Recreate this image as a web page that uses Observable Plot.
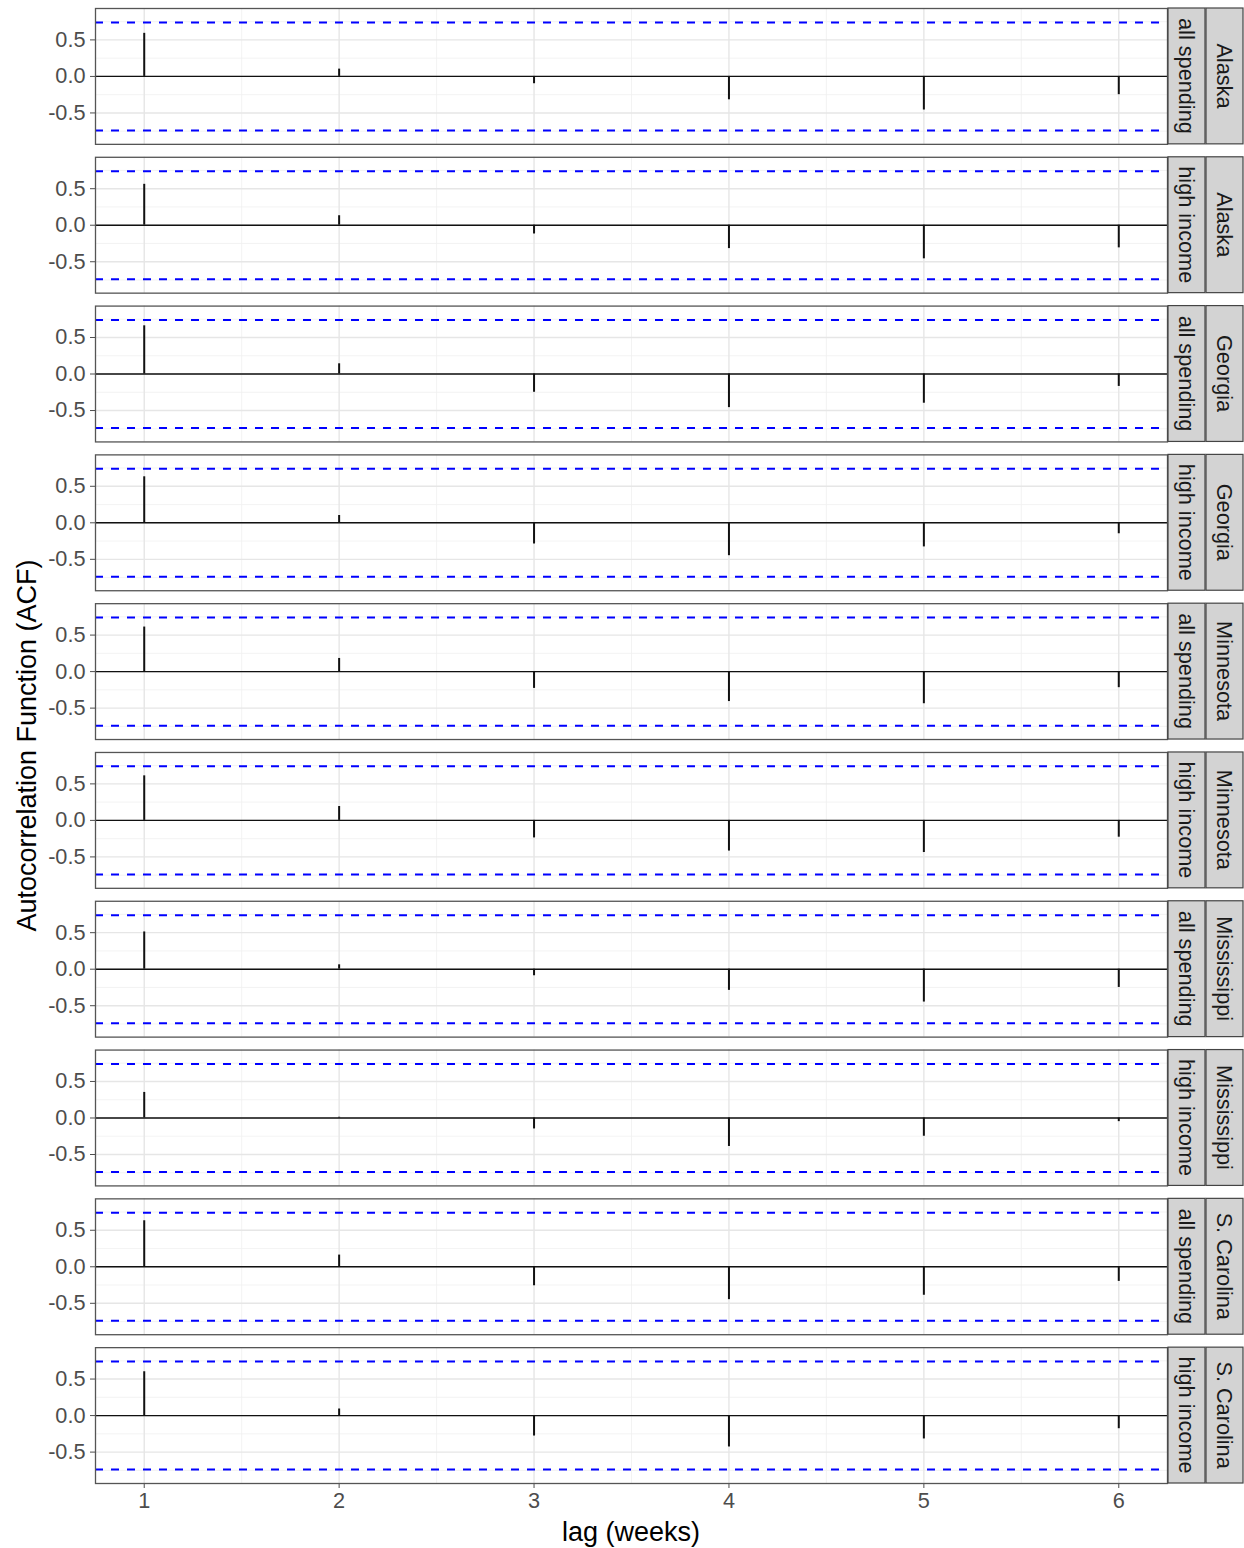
<!DOCTYPE html>
<html>
<head>
<meta charset="utf-8">
<script src="https://cdn.jsdelivr.net/npm/d3@7"></script>
<script src="https://cdn.jsdelivr.net/npm/@observablehq/plot@0.6"></script>
<style>
  body { margin: 0; background: white; }
  #chart svg { display: block; }
</style>
</head>
<body>
<div id="chart"></div>
<script>
// ---- data ----
const states = ["Alaska","Alaska","Georgia","Georgia","Minnesota","Minnesota","Mississippi","Mississippi","S. Carolina","S. Carolina"];
const types  = ["all spending","high income","all spending","high income","all spending","high income","all spending","high income","all spending","high income"];
const lags = [1, 2, 3, 4, 5, 6];
const acfAlaskaAll      = [0.59, 0.10, -0.10, -0.32, -0.46, -0.25];
const acfAlaskaHigh     = [0.56, 0.13, -0.12, -0.32, -0.46, -0.31];
const acfGeorgiaAll     = [0.66, 0.14, -0.25, -0.46, -0.40, -0.17];
const acfGeorgiaHigh    = [0.63, 0.10, -0.29, -0.45, -0.33, -0.15];
const acfMinnesotaAll   = [0.61, 0.18, -0.23, -0.41, -0.44, -0.22];
const acfMinnesotaHigh  = [0.61, 0.19, -0.24, -0.42, -0.44, -0.23];
const acfMississippiAll = [0.51, 0.06, -0.09, -0.29, -0.45, -0.25];
const acfMississippiHigh= [0.35, 0.01, -0.15, -0.39, -0.25, -0.05];
const acfSCarolinaAll   = [0.63, 0.16, -0.26, -0.45, -0.39, -0.20];
const acfSCarolinaHigh  = [0.60, 0.09, -0.28, -0.43, -0.32, -0.18];
const ciBound = 0.74;
const xTicks = [1, 2, 3, 4, 5, 6];
const yTicks = [-0.5, 0, 0.5];
const xMinor = [1.5, 2.5, 3.5, 4.5, 5.5];
const yMinor = [-0.75, -0.25, 0.25, 0.75];

// ---- build table ----
const series = [acfAlaskaAll, acfAlaskaHigh, acfGeorgiaAll, acfGeorgiaHigh, acfMinnesotaAll,
                acfMinnesotaHigh, acfMississippiAll, acfMississippiHigh, acfSCarolinaAll, acfSCarolinaHigh];
const panels = states.map((s, i) => s + "|" + types[i]);
const rows = [];
series.forEach((vals, i) => vals.forEach((v, j) => rows.push({panel: panels[i], lag: lags[j], acf: v})));

const W = 1244, H = 1548;
const plot = Plot.plot({
  width: W, height: H,
  marginLeft: 95, marginRight: 77, marginTop: 8, marginBottom: 65,
  style: {fontFamily: "'Liberation Sans', Arial, sans-serif", fontSize: "21.7px", color: "#4d4d4d", background: "white"},
  x: {domain: [0.75, 6.25], ticks: xTicks, tickFormat: d => String(d), tickSize: 5, tickPadding: 4, label: null},
  y: {domain: [-0.93, 0.93], ticks: yTicks, tickFormat: d => d.toFixed(1), tickSize: 5, tickPadding: 5, label: null},
  fy: {domain: panels, axis: null, paddingInner: 0.087, paddingOuter: 0, round: false, label: null},
  marks: [
    Plot.ruleX(xMinor, {stroke: "#f0f0f0", strokeWidth: 0.8}),
    Plot.ruleY(yMinor, {stroke: "#f0f0f0", strokeWidth: 0.8}),
    Plot.ruleX(xTicks, {stroke: "#e6e6e6", strokeWidth: 1.4}),
    Plot.ruleY(yTicks, {stroke: "#e6e6e6", strokeWidth: 1.4}),
    Plot.ruleY([ciBound, -ciBound], {stroke: "#0000ff", strokeWidth: 2, strokeDasharray: "8,8"}),
    Plot.ruleY([0], {stroke: "#111", strokeWidth: 1.4}),
    Plot.ruleX(rows, {x: "lag", y1: 0, y2: "acf", fy: "panel", stroke: "#111", strokeWidth: 2}),
    Plot.frame({stroke: "#555", strokeWidth: 1.3})
  ]
});
document.getElementById("chart").appendChild(plot);

// ---- facet strips and axis titles ----
const svg = d3.select(plot);
const fy = plot.scale("fy");
const xs = plot.scale("x");
const xRight = xs.apply(6.25);
const xLeft = xs.apply(0.75);
const bw = fy.bandwidth;
const stripW = 37;
panels.forEach((p, i) => {
  const y0 = fy.apply(p);
  [types[i], states[i]].forEach((label, k) => {
    const x0 = xRight + 1 + k * (stripW + 1);
    svg.append("rect").attr("x", x0).attr("y", y0).attr("width", stripW).attr("height", bw)
      .attr("fill", "#d3d3d3").attr("stroke", "#444").attr("stroke-width", 1.2);
    svg.append("text")
      .attr("transform", `translate(${x0 + stripW / 2},${y0 + bw / 2}) rotate(90)`)
      .attr("text-anchor", "middle").attr("dy", "0.35em")
      .attr("fill", "#1a1a1a").style("font-size", "21.7px")
      .text(label);
  });
});
const r = fy.range;
svg.append("text")
  .attr("transform", `translate(27,${(r[0] + r[1]) / 2}) rotate(-90)`)
  .attr("text-anchor", "middle").attr("dy", "0.35em")
  .attr("fill", "#000").style("font-size", "27px")
  .text("Autocorrelation Function (ACF)");
svg.append("text")
  .attr("x", (xLeft + xRight) / 2).attr("y", H - 16)
  .attr("text-anchor", "middle").attr("dy", "0.35em")
  .attr("fill", "#000").style("font-size", "27px")
  .text("lag (weeks)");
</script>
</body>
</html>
